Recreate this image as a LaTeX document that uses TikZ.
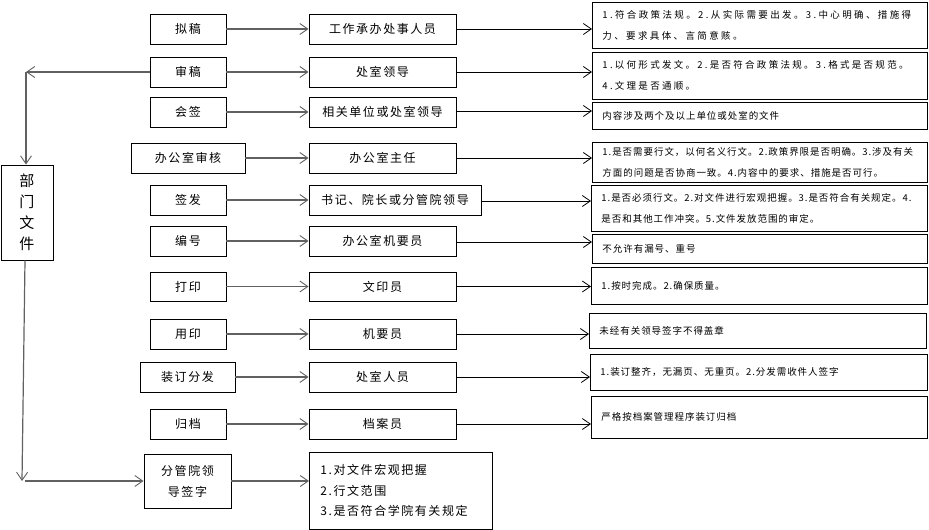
\documentclass[tikz,border=0pt]{standalone}
\usepackage{fontspec}
\setmainfont{Noto Sans CJK SC}
\newfontfamily\lblfont{Noto Sans CJK SC}[LetterSpace=13]
\newfontfamily\notefont{Noto Sans CJK SC}[LetterSpace=10]
\newcommand\nls[1]{\addfontfeature{LetterSpace=#1}}
\usetikzlibrary{arrows.meta}
\begin{document}
\begin{tikzpicture}[x=1pt,y=-1pt,
  box/.style={draw=black, line width=0.9pt, minimum height=30pt, inner sep=0pt, align=center,
    font=\lblfont\fontsize{12}{21}\selectfont},
  notebox/.style={draw=black, line width=0.9pt, inner xsep=10pt, inner ysep=0pt, text width=315pt,
    align=left, anchor=west, font=\notefont\fontsize{9.5}{21}\selectfont},
  garr/.style={draw=black!62, line width=1.2pt, -{Straight Barb[length=8pt,width=11pt,line width=0.9pt]}},
  barr/.style={draw=black, line width=0.8pt, -{Straight Barb[length=8pt,width=11pt,line width=0.8pt]}}
]
\useasboundingbox (0,0) rectangle (929,530);

% left department box
\node[draw=black, line width=0.9pt, minimum width=52pt, minimum height=95pt, inner sep=0pt, align=center,
  font=\fontsize{15}{21}\selectfont] (dept) at (27,212.5) {部\\门\\文\\件};

% first column
\node[box, minimum width=76pt] (a1) at (188,29) {拟稿};
\node[box, minimum width=76pt] (a2) at (188,72) {审稿};
\node[box, minimum width=76pt] (a3) at (188,112) {会签};
\node[box, minimum width=114pt] (a4) at (188,158) {办公室审核};
\node[box, minimum width=76pt] (a5) at (188,200) {签发};
\node[box, minimum width=76pt] (a6) at (188,241) {编号};
\node[box, minimum width=76pt, minimum height=29pt] (a7) at (188,286.5) {打印};
\node[box, minimum width=76pt] (a8) at (188,334) {用印};
\node[box, minimum width=95pt] (a9) at (187.5,377) {装订分发};
\node[box, minimum width=76pt] (a10) at (188,424) {归档};
\node[box, minimum width=87pt, minimum height=54pt] (a11) at (187.5,481) {分管院领\\导签字};

% second column
\node[box, minimum width=147pt] (b1) at (382.5,29) {工作承办处事人员};
\node[box, minimum width=147pt] (b2) at (382.5,72) {处室领导};
\node[box, minimum width=147pt] (b3) at (382.5,112) {相关单位或处室领导};
\node[box, minimum width=147pt] (b4) at (382.5,158) {办公室主任};
\node[box, minimum width=172pt] (b5) at (395,200) {书记、院长或分管院领导};
\node[box, minimum width=147pt] (b6) at (382.5,241) {办公室机要员};
\node[box, minimum width=147pt, minimum height=29pt] (b7) at (382.5,286.5) {文印员};
\node[box, minimum width=147pt] (b8) at (382.5,334) {机要员};
\node[box, minimum width=147pt] (b9) at (382.5,377) {处室人员};
\node[box, minimum width=147pt] (b10) at (382.5,424) {档案员};
\node[draw=black, line width=0.9pt, inner xsep=11pt, inner ysep=0pt, text width=161pt, minimum height=77pt,
  align=left, anchor=west, font=\lblfont\fontsize{12}{20.5}\selectfont] (b11) at (309,490.5)
  {1.对文件宏观把握\\2.行文范围\\3.是否符合学院有关规定};

% notes
\node[notebox, minimum height=46pt] (n1) at (592,25) {{\nls{25}1.符合政策法规。2.从实际需要出发。3.中心明确、措施得}\\{\nls{25}力、要求具体、言简意赅。}};
\node[notebox, minimum height=47pt] (n2) at (592,75.5) {{\nls{24}1.以何形式发文。2.是否符合政策法规。3.格式是否规范。}\\{\nls{24}4.文理是否通顺。}};
\node[notebox, minimum height=27pt] (n3) at (592,115.5) {内容涉及两个及以上单位或处室的文件};
\node[notebox, minimum height=40pt] (n4) at (592,162) {1.是否需要行文，以何名义行文。2.政策界限是否明确。3.涉及有关\\方面的问题是否协商一致。4.内容中的要求、措施是否可行。};
\node[notebox, minimum height=46pt, text width=316pt] (n5) at (591,208) {1.是否必须行文。2.对文件进行宏观把握。3.是否符合有关规定。4.\\是否和其他工作冲突。5.文件发放范围的审定。};
\node[notebox, minimum height=29pt] (n6) at (592,248.5) {不允许有漏号、重号};
\node[notebox, minimum height=37pt, text width=316pt] (n7) at (591,285.5) {1.按时完成。2.确保质量。};
\node[notebox, minimum height=35pt, text width=317pt] (n8) at (589,330.5) {未经有关领导签字不得盖章};
\node[notebox, minimum height=36pt, text width=317pt] (n9) at (590,372) {1.装订整齐，无漏页、无重页。2.分发需收件人签字};
\node[notebox, minimum height=42pt, text width=316pt] (n10) at (591,417) {严格按档案管理程序装订归档};

% coordinates for left loop
\coordinate (c1) at (26,72);
\coordinate (c2) at (22,481);
\coordinate (c3) at (25,481);

% column 1 -> column 2
\foreach \i in {1,...,10} { \draw[garr] (a\i) -- (b\i); }
\draw[garr] (a11.east) -- (a11.east -| b11.west);

% column 2 -> notes
\draw[barr] (b1.east) -- (b1.east -| n1.west);
\draw[barr] (b2.east) -- (b2.east -| n2.west);
\draw[barr] (b3.east) ++(0,-1) -- (n3.west |- 0,111);
\draw[barr] (b4.east) -- (b4.east -| n4.west);
\draw[barr] (b5.east) ++(0,1) -- (n5.west |- 0,201);
\draw[barr] (b6.east) ++(0,1) -- (n6.west |- 0,242);
\draw[barr] (b7.east) -- (b7.east -| n7.west);
\draw[barr] (b8.east) -- (b8.east -| n8.west);
\draw[barr] (b9.east) -- (b9.east -| n9.west);
\draw[barr] (b10.east) -- (b10.east -| n10.west);

% left loop
\draw[garr] (a2.west) -- (c1);
\draw[garr] (c1) -- (dept.north -| c1);
\draw[garr] (dept.south -| 25,0) -- (c2);
\draw[garr] (c3) -- (a11.west);
\end{tikzpicture}
\end{document}
